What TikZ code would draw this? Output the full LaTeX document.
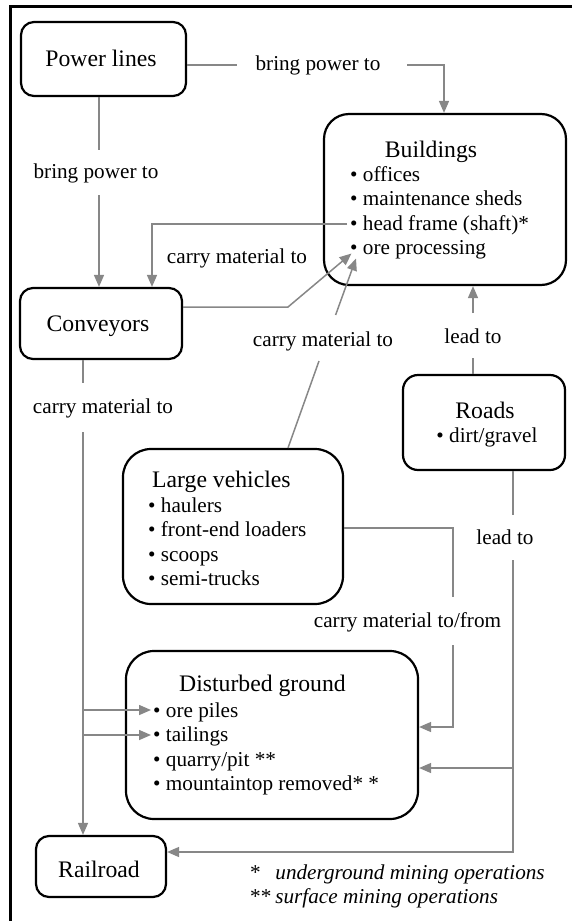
\documentclass[tikz,border=0pt]{standalone}
\usepackage{fontspec}
\setmainfont{Liberation Serif}
\usetikzlibrary{arrows.meta}
\definecolor{linegray}{HTML}{878787}
\begin{document}
\begin{tikzpicture}[x=1pt,y=-1pt,
  box/.style={draw, line width=2.2pt, rectangle, inner sep=0pt},
  ttl/.style={font=\fontsize{23.7}{28}\selectfont, inner sep=0pt, anchor=base},
  txt/.style={font=\fontsize{21.2}{24.5}\selectfont, inner sep=0pt, anchor=base},
  lst/.style={font=\fontsize{21.2}{24.5}\selectfont, inner sep=0pt, anchor=base west},
  conn/.style={draw=linegray, line width=1.5pt},
  arr/.style={conn, -{Triangle[length=12pt,width=10pt]}}
]
\useasboundingbox (0,0) rectangle (572,921);
% frame
\draw[line width=2.5pt] (10.5,930) -- (10.5,6.5) -- (580,6.5);

% boxes
\node[box, rounded corners=13pt, minimum width=165pt, minimum height=74pt] (pl) at (103.5,59) {};
\node[box, rounded corners=25pt, minimum width=242pt, minimum height=171pt] (bld) at (445,199.5) {};
\node[box, rounded corners=13pt, minimum width=162pt, minimum height=71pt] (conv) at (101,323.5) {};
\node[box, rounded corners=15pt, minimum width=162pt, minimum height=95pt] (rd) at (484,422.5) {};
\node[box, rounded corners=28pt, minimum width=220pt, minimum height=155pt] (lv) at (233,526.5) {};
\node[box, rounded corners=28pt, minimum width=292pt, minimum height=168pt] (dg) at (272,735) {};
\node[box, rounded corners=13pt, minimum width=130pt, minimum height=61pt] (rr) at (101,866.5) {};

% box texts
\node[ttl] (plt) at (101,66.5) {Power lines};
\node[ttl] (bldt) at (431,157) {Buildings};
\node[lst] (bldl) at (350,181) {\begin{tabular}[t]{@{}l@{}}• offices\\• maintenance sheds\\• head frame (shaft)*\\• ore processing\end{tabular}};
\node[ttl] (convt) at (98,331) {Conveyors};
\node[ttl] (rdt) at (485,418) {Roads};
\node[txt] (rdl) at (487,442) {• dirt/gravel};
\node[ttl, anchor=base west] (lvt) at (152,487) {Large vehicles};
\node[lst] (lvl) at (148,512) {\begin{tabular}[t]{@{}l@{}}• haulers\\• front-end loaders\\• scoops\\• semi-trucks\end{tabular}};
\node[ttl, anchor=base west] (dgt) at (179,691) {Disturbed ground};
\node[lst] (dgl) at (153,717) {\begin{tabular}[t]{@{}l@{}}• ore piles\\• tailings\\• quarry/pit **\\• mountaintop removed* *\end{tabular}};
\node[ttl] (rrt) at (99,877) {Railroad};

% footnote
\node[lst] (fn) at (250,879) {\begin{tabular}[t]{@{}l@{\hspace{4pt}}l@{}}{*}&\textit{underground mining operations}\\{**}&\textit{surface mining operations}\end{tabular}};

% labels
\node[txt] (l1) at (318,70) {bring power to};
\node[txt] (l2) at (96,178) {bring power to};
\node[txt] (l3) at (237,263) {carry material to};
\node[txt] (l4) at (323,346) {carry material to};
\node[txt] (l5) at (473,343) {lead to};
\node[txt] (l6) at (103,413) {carry material to};
\node[txt] (l7) at (505,544) {lead to};
\node[txt] (l8) at (407.5,627) {carry material to/from};

% coordinates
\coordinate (p1) at (237,65);
\coordinate (p2) at (407,65);
\coordinate (p3) at (444,65);
\coordinate (q1) at (99,150);
\coordinate (q2) at (99,195);
\coordinate (r0) at (347,224);
\coordinate (r1) at (152,224);
\coordinate (s1) at (288,307);
\coordinate (s2) at (351.5,253.5);
\coordinate (t0) at (288,448);
\coordinate (t1) at (319,361);
\coordinate (t2) at (335.6,315);
\coordinate (t3) at (356,258.5);
\coordinate (u1) at (473,358);
\coordinate (u2) at (473,313);
\coordinate (v1) at (513,515);
\coordinate (v2) at (513,560);
\coordinate (v3) at (513,852);
\coordinate (v4) at (513,768);
\coordinate (w1) at (453,528);
\coordinate (w2) at (453,597);
\coordinate (w3) at (453,645);
\coordinate (w4) at (453,727);
\coordinate (x1) at (83,383);
\coordinate (x2) at (83,432);
\coordinate (x3) at (83,710);
\coordinate (x4) at (83,735);
\coordinate (x5) at (151,710);
\coordinate (x6) at (151,735);

% connectors
\draw[conn] (pl.east |- p1) -- (p1);
\draw[arr] (p2) -- (p3) -- (bld.north -| p3);
\draw[conn] (pl.south -| q1) -- (q1);
\draw[arr] (q2) -- (conv.north -| q2);
\draw[arr] (r0) -- (r1) -- (conv.north -| r1);
\draw[arr] (conv.east |- s1) -- (s1) -- (s2);
\draw[conn] (lv.north -| t0) -- (t1);
\draw[arr] (t2) -- (t3);
\draw[conn] (rd.north -| u1) -- (u1);
\draw[arr] (u2) -- (bld.south -| u2);
\draw[conn] (rd.south -| v1) -- (v1);
\draw[arr] (v2) -- (v3) -- (rr.east |- v3);
\draw[arr] (v4) -- (dg.east |- v4);
\draw[conn] (lv.east |- w1) -- (w1) -- (w2);
\draw[arr] (w3) -- (w4) -- (dg.east |- w4);
\draw[conn] (conv.south -| x1) -- (x1);
\draw[arr] (x2) -- (rr.north -| x2);
\draw[arr] (x3) -- (x5);
\draw[arr] (x4) -- (x6);
\end{tikzpicture}
\end{document}
